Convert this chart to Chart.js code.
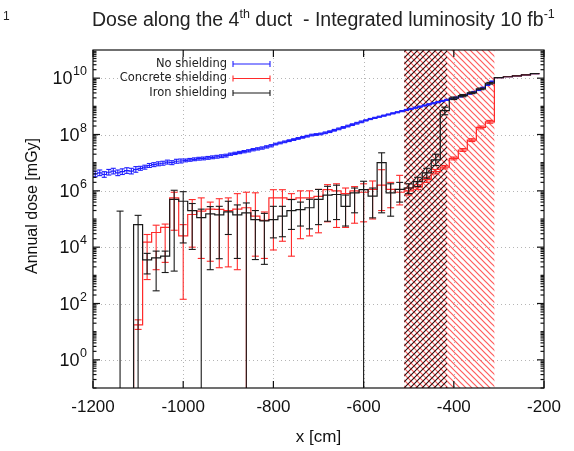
<!DOCTYPE html>
<html>
<head>
<meta charset="utf-8">
<script src="https://cdn.jsdelivr.net/npm/chart.js@4.4.1/dist/chart.umd.min.js"></script>
<style>
  html, body { margin: 0; padding: 0; background: #fff; }
  #wrap { position: relative; width: 574px; height: 451px; }
  #pg { position: absolute; left: 3px; top: 9px; font: 12px "Liberation Sans", Arial, sans-serif; color: #222; }
  #title { position: absolute; left: 92px; top: 8px; font: 19.5px "Liberation Sans", Arial, sans-serif; color: #222; white-space: pre; }
  #title sup { font-size: 12.5px; vertical-align: 0; position: relative; top: -8px; }
</style>
</head>
<body>
<div id="wrap">
  <canvas id="chart" width="574" height="451"></canvas>
  <div id="pg">1</div>
  <div id="title">Dose along the 4<sup>th</sup> duct  - Integrated luminosity 10 fb<sup>-1</sup></div>
</div>
<script>
// ---- data (dose values as log10 of mGy) ----

// no shielding: 10 cm bins, first bin centre at -1195 cm
const noShieldFirst = -1195;
const noShieldBin = 10;
const noShieldLog = [
  6.60, 6.64, 6.58, 6.66, 6.70, 6.64, 6.68, 6.72, 6.70, 6.76,
  6.80, 6.84, 6.90, 6.93, 6.96, 6.98, 7.02, 7.00, 7.05, 7.06,
  7.08, 7.10, 7.12, 7.14, 7.15, 7.17, 7.19, 7.21, 7.23, 7.25,
  7.30, 7.33, 7.36, 7.39, 7.42, 7.46, 7.49, 7.52, 7.56, 7.60,
  7.66, 7.70, 7.74, 7.78, 7.82, 7.86, 7.90, 7.94, 7.98, 8.00,
  8.02, 8.06, 8.10, 8.15, 8.20, 8.25, 8.30, 8.35, 8.40, 8.45,
  8.50, 8.55, 8.59, 8.63, 8.67, 8.71, 8.75, 8.79, 8.83, 8.87,
  8.91, 8.95, 8.99, 9.03, 9.07, 9.11, 9.15, 9.19, 9.23, 9.27,
  9.31, 9.35, 9.40, 9.45, 9.51, 9.58, 9.66, 9.76, 9.88
];
// error (dex) for each metre of the no-shielding curve
const noShieldErr = [0.10, 0.07, 0.05, 0.04, 0.03, 0.03, 0.02, 0.02, 0.02];

// iron shielding: 20 cm bins, first centre at -1140 cm (null = empty bin / error to zero)
const ironFirst = -1140;
const ironLog = [
  null, null, 4.80, 3.55, 3.62, 3.68, 5.70, 5.63, 5.30, 5.05,
  5.18, 5.15, 5.25, 5.15, 5.22, 4.98, 4.93, 4.98, 5.10, 5.30,
  5.33, 5.40, 5.70, 5.85, 5.87, 5.45, 5.93, 6.04, 5.81, 7.00,
  5.93, 6.05, 6.10, 6.33, 6.64, 7.10, 8.85, 9.29, 9.38, 9.48,
  9.62, 9.82
];
const ironLo = [
  null, null, null, 3.05, 2.45, 3.10, 3.15, 4.15, 3.92, null,
  3.20, 3.59, 4.45, 3.60, null, 3.56, 3.39, 4.33, 4.37, 4.63,
  4.75, 4.65, 4.80, 4.92, 4.98, 4.75, 5.22, null, 5.04, 5.22,
  5.10, 5.60, 5.90, 6.15, 6.45, 6.90, 8.70, 9.24, 9.34, 9.45,
  9.59, 9.79
];
const ironHi = [
  5.28, null, 5.13, 3.78, 3.86, 3.86, 6.02, 5.97, 5.55, 5.35,
  5.44, 5.45, 5.63, 5.50, 5.57, 5.30, 5.20, 5.45, 5.45, 5.69,
  5.60, 5.70, 6.05, 6.16, 6.20, 5.85, 6.10, 6.34, 6.10, 7.35,
  6.25, 6.30, 6.25, 6.48, 6.80, 7.30, 8.97, 9.33, 9.42, 9.51,
  9.65, 9.85
];

// concrete shielding: 20 cm bins, first centre at -1100 cm
const concreteFirst = -1100;
const concreteLog = [
  1.24, 4.18, 4.52, 4.70, 5.75, 4.40, 5.16, 5.28, 5.35, 5.34,
  5.30, 5.35, 5.40, 5.10, 4.95, 5.75, 5.75, 5.70, 5.75, 5.75,
  5.80, 6.04, 6.00, 5.90, 6.00, 5.95, 6.05, 6.20, 6.05, 5.95,
  6.00, 6.14, 6.40, 6.68, 6.84, 7.15, 7.45, 7.80, 8.25, 8.45
];
const concreteLo = [
  1.08, 2.85, 3.20, 3.46, 4.60, 2.15, 4.00, 3.60, 3.50, 3.27,
  3.30, 3.20, null, 3.68, 3.60, 3.90, 4.21, 3.68, 4.30, 4.40,
  4.51, 4.90, 4.70, 4.70, 4.85, 4.90, 5.00, 5.30, 5.40, 5.50,
  5.85, 6.05, 6.30, 6.60, 6.78, 7.10, 7.40, 7.75, 8.20, 8.40
];
const concreteHi = [
  1.42, 4.45, 4.78, 4.82, 5.95, 4.80, 5.69, 5.75, 5.60, 5.72,
  5.75, 5.90, 5.95, 5.93, 5.25, 6.04, 6.04, 5.90, 6.00, 6.00,
  6.05, 6.22, 6.25, 6.10, 6.15, 6.25, 6.35, 6.75, 6.30, 6.55,
  6.10, 6.22, 6.48, 6.76, 6.90, 7.20, 7.50, 7.85, 8.30, 8.50
];
const shieldBin = 20;

// common part behind the shielding (all three curves coincide)
const tailX = [-300, -280, -260, -240, -220];
const tailLog = [10.02, 10.05, 10.08, 10.12, 10.16];

// shielding zones [cm]
const concreteZone = [-510, -310];
const ironZone = [-510, -415];

const xTicks = [-1200, -1000, -800, -600, -400, -200];
const yTickExp = [0, 2, 4, 6, 8, 10];

const BLUE = '#1f1fff', RED = '#ff2a2a', BLACK = '#1a1a1a';

// ---- build histogram steps ----
function histo(first, width, logs, fromBottom) {
  const pts = [];
  let started = false;
  logs.forEach((l, i) => {
    const c = first + width * i;
    if (l === null) { if (started) pts.push({ x: c, y: null }); return; }
    const v = Math.pow(10, l);
    if (!started && fromBottom) pts.push({ x: c - width / 2, y: 1e-3 });
    started = true;
    pts.push({ x: c - width / 2, y: v }, { x: c + width / 2, y: v });
  });
  tailX.forEach((c, i) => {
    const v = Math.pow(10, tailLog[i]);
    pts.push({ x: c - 10, y: v }, { x: c + 10, y: v });
  });
  return pts;
}

function errs(first, width, hi, lo) {
  const out = [];
  hi.forEach((h, i) => {
    if (h === null) return;
    out.push({ x: first + width * i, hi: Math.pow(10, h), lo: lo[i] === null ? null : Math.pow(10, lo[i]) });
  });
  return out;
}

const noShieldErrBars = noShieldLog.map((l, i) => {
  const e = noShieldErr[Math.floor(i / 10)];
  return { x: noShieldFirst + noShieldBin * i, hi: Math.pow(10, l + e), lo: Math.pow(10, l - e) };
});

const errorBars = {
  'No shielding': { list: noShieldErrBars, color: BLUE, cap: 2.5 },
  'Concrete shielding': { list: errs(concreteFirst, shieldBin, concreteHi, concreteLo), color: RED, cap: 3.5 },
  'Iron shielding': { list: errs(ironFirst, shieldBin, ironHi, ironLo), color: BLACK, cap: 3.5 }
};

function hatch(ctx, color, forward, width) {
  const s = 6;
  const c = document.createElement('canvas');
  c.width = c.height = s;
  const g = c.getContext('2d');
  g.strokeStyle = color;
  g.lineWidth = width;
  g.beginPath();
  if (forward) {
    g.moveTo(0, s); g.lineTo(s, 0);
    g.moveTo(-1, 1); g.lineTo(1, -1);
    g.moveTo(s - 1, s + 1); g.lineTo(s + 1, s - 1);
  } else {
    g.moveTo(0, 0); g.lineTo(s, s);
    g.moveTo(-1, s - 1); g.lineTo(1, s + 1);
    g.moveTo(s - 1, -1); g.lineTo(s + 1, 1);
  }
  g.stroke();
  return ctx.createPattern(c, 'repeat');
}

function seg(ctx, x0, y0, x1, y1) {
  ctx.beginPath(); ctx.moveTo(x0, y0); ctx.lineTo(x1, y1); ctx.stroke();
}

const decor = {
  id: 'decor',
  beforeDatasetsDraw(chart) {
    const { ctx, chartArea: a, scales: { x, y } } = chart;
    ctx.save();
    // dotted grid
    ctx.strokeStyle = '#b5b5b5';
    ctx.lineWidth = 1;
    ctx.setLineDash([1, 3]);
    xTicks.slice(1, -1).forEach(t => {
      const px = Math.round(x.getPixelForValue(t)) + 0.5;
      seg(ctx, px, a.top, px, a.bottom);
    });
    yTickExp.forEach(n => {
      const py = Math.round(y.getPixelForValue(Math.pow(10, n))) + 0.5;
      seg(ctx, a.left, py, a.right, py);
    });
    ctx.setLineDash([]);
    // hatched shielding zones
    const x0 = x.getPixelForValue(concreteZone[0]);
    const x1 = x.getPixelForValue(concreteZone[1]);
    const x2 = x.getPixelForValue(ironZone[1]);
    ctx.fillStyle = hatch(ctx, '#ff5c5c', false, 1.2);
    ctx.fillRect(x0, a.top, x1 - x0, a.bottom - a.top);
    ctx.fillStyle = hatch(ctx, '#2a0e0e', true, 1.1);
    ctx.fillRect(x0, a.top, x2 - x0, a.bottom - a.top);
    ctx.restore();
  },
  afterDatasetDraw(chart, args) {
    const ds = chart.data.datasets[args.index];
    const eb = errorBars[ds.label];
    if (!eb) return;
    const { ctx, chartArea: a, scales: { x, y } } = chart;
    ctx.save();
    ctx.beginPath();
    ctx.rect(a.left, a.top, a.right - a.left, a.bottom - a.top);
    ctx.clip();
    ctx.strokeStyle = eb.color;
    ctx.lineWidth = 1.1;
    eb.list.forEach(e => {
      const px = x.getPixelForValue(e.x);
      const yh = y.getPixelForValue(e.hi);
      const yl = e.lo === null ? a.bottom : y.getPixelForValue(e.lo);
      seg(ctx, px, yl, px, yh);
      seg(ctx, px - eb.cap, yh, px + eb.cap, yh);
      if (e.lo !== null) seg(ctx, px - eb.cap, yl, px + eb.cap, yl);
    });
    ctx.restore();
  },
  afterDraw(chart) {
    const { ctx, chartArea: a, scales: { x, y } } = chart;
    ctx.save();
    ctx.strokeStyle = '#111';
    ctx.lineWidth = 1.2;
    ctx.strokeRect(a.left, a.top, a.right - a.left, a.bottom - a.top);
    // x ticks (inward, bottom and top)
    xTicks.forEach(t => {
      const px = x.getPixelForValue(t);
      seg(ctx, px, a.bottom, px, a.bottom - 7);
      seg(ctx, px, a.top, px, a.top + 7);
    });
    // y ticks, major and minor, both sides
    for (let n = -1; n <= 10; n++) {
      for (let j = 1; j <= 9; j++) {
        const v = j * Math.pow(10, n);
        if (v < y.min || v > y.max) continue;
        const py = y.getPixelForValue(v);
        const len = (j === 1 && yTickExp.includes(n)) ? 7 : 3.5;
        seg(ctx, a.left, py, a.left + len, py);
        seg(ctx, a.right, py, a.right - len, py);
      }
    }
    // y tick labels 10^n
    ctx.fillStyle = '#111';
    ctx.textBaseline = 'alphabetic';
    ctx.textAlign = 'right';
    yTickExp.forEach(n => {
      const py = y.getPixelForValue(Math.pow(10, n));
      ctx.font = '12.5px "Liberation Sans", Arial, sans-serif';
      const ew = ctx.measureText(String(n)).width;
      ctx.fillText(String(n), a.left - 6, py - 3);
      ctx.font = '18px "Liberation Sans", Arial, sans-serif';
      ctx.fillText('10', a.left - 6 - ew - 0.5, py + 6);
    });
    // y axis title
    ctx.save();
    ctx.translate(33, 206);
    ctx.rotate(-Math.PI / 2);
    ctx.textAlign = 'center';
    ctx.textBaseline = 'middle';
    ctx.font = '16px "Liberation Sans", Arial, sans-serif';
    ctx.fillText('Annual dose [mGy]', 0, 0);
    ctx.restore();
    // legend
    const rows = [['No shielding', BLUE], ['Concrete shielding', RED], ['Iron shielding', BLACK]];
    ctx.font = '11.5px "DejaVu Sans", sans-serif';
    ctx.textAlign = 'right';
    ctx.textBaseline = 'middle';
    rows.forEach((r, i) => {
      const yy = a.top + 14 + 14.5 * i;
      const lx = a.left + 134;
      ctx.fillStyle = '#222';
      ctx.fillText(r[0], lx, yy);
      ctx.strokeStyle = r[1];
      ctx.lineWidth = 1.1;
      seg(ctx, lx + 6, yy, lx + 43, yy);
      seg(ctx, lx + 6, yy - 3, lx + 6, yy + 3);
      seg(ctx, lx + 43, yy - 3, lx + 43, yy + 3);
    });
    ctx.restore();
  }
};

const ctx = document.getElementById('chart').getContext('2d');
const chart = new Chart(ctx, {
  type: 'line',
  data: {
    datasets: [
      {
        label: 'Iron shielding',
        data: histo(ironFirst, shieldBin, ironLog, true),
        borderColor: BLACK,
        borderWidth: 1.2,
        pointRadius: 0,
        order: 0
      },
      {
        label: 'Concrete shielding',
        data: histo(concreteFirst, shieldBin, concreteLog, true),
        borderColor: RED,
        borderWidth: 1.2,
        pointRadius: 0,
        order: 1
      },
      {
        label: 'No shielding',
        data: histo(noShieldFirst, noShieldBin, noShieldLog, false),
        borderColor: BLUE,
        borderWidth: 1.2,
        pointRadius: 0,
        order: 2
      }
    ]
  },
  options: {
    responsive: false,
    animation: false,
    spanGaps: false,
    layout: { padding: { top: 50, right: 30, left: 0, bottom: 0 } },
    plugins: { legend: { display: false }, tooltip: { enabled: false } },
    scales: {
      x: {
        type: 'linear',
        min: -1200,
        max: -200,
        grid: { display: false, drawTicks: false },
        border: { display: false },
        afterFit: s => { s.height = 63; },
        afterBuildTicks: s => { s.ticks = xTicks.map(v => ({ value: v })); },
        ticks: {
          autoSkip: false,
          maxRotation: 0,
          padding: 9,
          color: '#111',
          font: { family: '"Liberation Sans", Arial, sans-serif', size: 17 },
          callback: v => String(v)
        },
        title: {
          display: true,
          text: 'x [cm]',
          color: '#111',
          font: { family: '"Liberation Sans", Arial, sans-serif', size: 17 },
          padding: { top: 0, bottom: 3 }
        }
      },
      y: {
        type: 'logarithmic',
        min: 0.1,
        max: 1e11,
        grid: { display: false, drawTicks: false },
        border: { display: false },
        ticks: { display: false },
        afterFit: s => { s.width = 93; }
      }
    }
  },
  plugins: [decor]
});
</script>
</body>
</html>
